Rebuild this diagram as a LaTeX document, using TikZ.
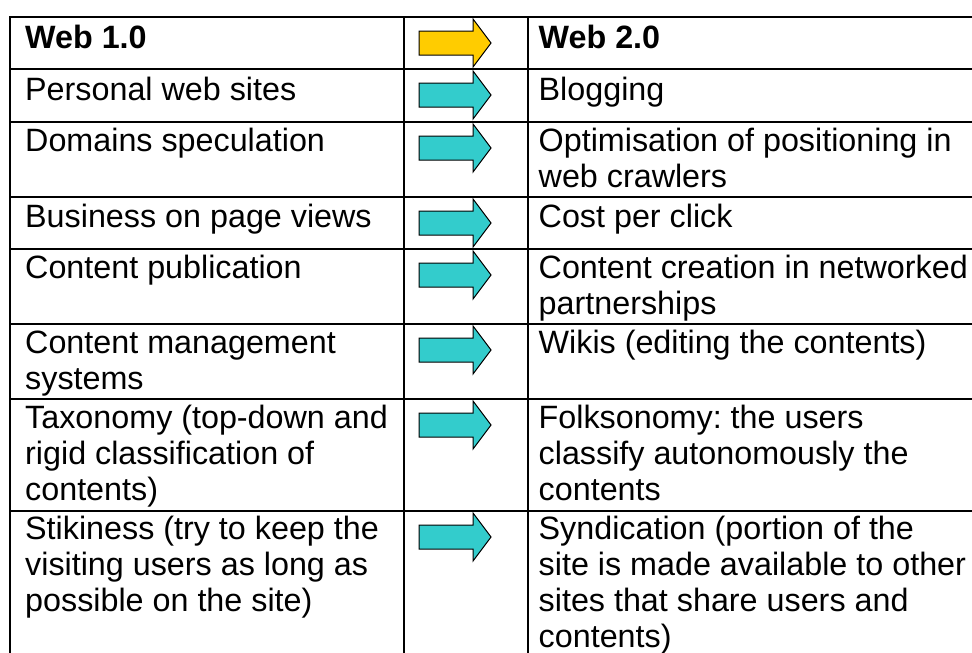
\documentclass[tikz,border=0pt]{standalone}
\usepackage{fontspec}
\setmainfont{Liberation Sans}
\frenchspacing
\definecolor{arrowgold}{HTML}{FFCC00}
\definecolor{arrowteal}{HTML}{33CCCC}
% block arrow in the middle column; #1 = top of the row, #2 = fill colour
\newcommand{\cellarrow}[2]{%
  \draw[shiftarrow, fill=#2]
    (419,#1+14) -- (473,#1+14) -- (473,#1+2) -- (491,#1+26)
    -- (473,#1+50) -- (473,#1+38) -- (419,#1+38) -- cycle;}
\begin{document}
\begin{tikzpicture}[x=1pt, y=-1pt,
  grid/.style={line width=1.7pt, black, line cap=rect},
  cell/.style={anchor=north west, inner sep=0pt, align=left,
    font=\fontsize{32.3}{36}\selectfont},
  headcell/.style={cell, font=\fontsize{32.3}{36}\selectfont\bfseries},
  shiftarrow/.style={draw=black, line width=1pt, line join=miter}]
\useasboundingbox (0,0) rectangle (972,653);
\clip (0,0) rectangle (972,653);

% table rules
\draw[grid] (990,17) -- (10,17) -- (10,670);
\foreach \y in {69,122,197,249,324,399,511}
  \draw[grid] (10,\y) -- (990,\y);
\foreach \x in {404,528}
  \draw[grid] (\x,17) -- (\x,670);

% row 1: headings
\node[headcell] (old1) at (25,23) {\strut Web 1.0};
\node[headcell] (new1) at (538.5,23) {\strut Web 2.0};
\cellarrow{17}{arrowgold}

% row 2
\node[cell] (old2) at (25,75) {\strut Personal web sites};
\node[cell] (new2) at (538.5,75) {\strut Blogging};
\cellarrow{69}{arrowteal}

% row 3
\node[cell] (old3) at (25,126.5) {\strut Domains speculation};
\node[cell] (new3) at (538.5,126.5) {\strut Optimisation of positioning in\\web crawlers};
\cellarrow{122}{arrowteal}

% row 4
\node[cell] (old4) at (25,202.5) {\strut Business on page views};
\node[cell] (new4) at (538.5,202.5) {\strut Cost per click};
\cellarrow{197}{arrowteal}

% row 5
\node[cell] (old5) at (25,253.5) {\strut Content publication};
\node[cell] (new5) at (538.5,253.5) {\strut Content creation in networked\\partnerships};
\cellarrow{249}{arrowteal}

% row 6
\node[cell] (old6) at (25,328.5) {\strut Content management\\systems};
\node[cell] (new6) at (538.5,328.5) {\strut Wikis (editing the contents)};
\cellarrow{324}{arrowteal}

% row 7
\node[cell] (old7) at (25,403.5) {\strut Taxonomy (top-down and\\rigid classification of\\contents)};
\node[cell] (new7) at (538.5,403.5) {\strut Folksonomy: the users\\classify autonomously the\\contents};
\cellarrow{399}{arrowteal}

% row 8
\node[cell] (old8) at (25,513.8) {\strut Stikiness (try to keep the\\visiting users as long as\\possible on the site)};
\node[cell] (new8) at (538.5,513.8) {\strut Syndication (portion of the\\site is made available to other\\sites that share users and\\contents)};
\cellarrow{511}{arrowteal}
\end{tikzpicture}
\end{document}
